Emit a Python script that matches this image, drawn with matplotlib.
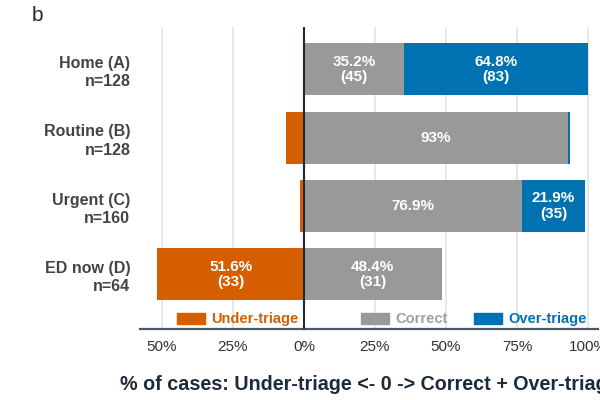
import numpy as np
import matplotlib
matplotlib.use("Agg")
import matplotlib.pyplot as plt
from matplotlib.patches import Rectangle

plt.rcParams['font.family'] = ['Liberation Sans', 'DejaVu Sans']

# data
categories = ['Home (A)\nn=128', 'Routine (B)\nn=128', 'Urgent (C)\nn=160', 'ED now (D)\nn=64']
n_under = [0, 8, 2, 33]
n_correct = [45, 119, 123, 31]
n_over = [83, 1, 35, 0]
xticks = [-50, -25, 0, 25, 50, 75, 100]
xticklabels = ['50%', '25%', '0%', '25%', '50%', '75%', '100%']
legend_names = ['Under-triage', 'Correct', 'Over-triage']

c_under = '#D55E00'
c_correct = '#999999'
c_over = '#0072B2'
dark = '#1c2b3c'

n_total = np.array(n_under) + np.array(n_correct) + np.array(n_over)
p_under = np.array(n_under) / n_total * 100
p_correct = np.array(n_correct) / n_total * 100
p_over = np.array(n_over) / n_total * 100

fig = plt.figure(figsize=(6, 4), dpi=100)
ax = fig.add_axes([0.2333, 0.1775, 0.7634, 0.755])

y = np.arange(len(categories))
h = 0.76
ax.barh(y, -p_under, height=h, color=c_under, zorder=2)
ax.barh(y, p_correct, height=h, color=c_correct, zorder=2)
ax.barh(y, p_over, left=p_correct, height=h, color=c_over, zorder=2)


def seg_label(pct, n, xc, yc):
    if pct < 10:
        return
    txt = '%.3g%%' % pct
    if n < 100:
        txt += '\n(%d)' % n
    ax.text(xc, yc, txt, ha='center', va='center', color='white',
            fontsize=11, fontweight='bold', linespacing=1.15, zorder=3)


for i in range(len(categories)):
    seg_label(p_under[i], n_under[i], -p_under[i] / 2, y[i])
    seg_label(p_correct[i], n_correct[i], p_correct[i] / 2, y[i])
    seg_label(p_over[i], n_over[i], p_correct[i] + p_over[i] / 2, y[i])

ax.axvline(0, color=dark, linewidth=1.5, zorder=6)
ax.set_xlim(-57.7, 103.5)
ax.set_ylim(3.8, -0.62)
ax.set_xticks(xticks)
ax.set_xticklabels(xticklabels, fontsize=11, color='#333333')
ax.set_yticks(y)
ax.set_yticklabels(categories, fontsize=11.5, fontweight='bold', color='#444444',
                   linespacing=1.3)
ax.tick_params(axis='both', length=0, pad=8)
ax.tick_params(axis='y', pad=7)
ax.grid(axis='x', color='#e3e3e3', linewidth=1.2, zorder=0)
ax.set_axisbelow(True)
for s in ['top', 'right', 'left']:
    ax.spines[s].set_visible(False)
ax.spines['bottom'].set_color('#4a5868')
ax.spines['bottom'].set_linewidth(1.6)

ax.set_xlabel('% of cases: Under-triage <- 0 -> Correct + Over-triage',
              fontsize=14.2, fontweight='bold', color=dark, labelpad=15)

# legend drawn by hand, positions in figure pixels
leg_x = [177, 361, 474]
leg_col = [c_under, c_correct, c_over]
leg_txt_col = [c_under, '#a0a0a0', c_over]
for lx, name, c, tc in zip(leg_x, legend_names, leg_col, leg_txt_col):
    fig.patches.append(Rectangle((lx / 600, 1 - 324 / 400), 28 / 600, 11 / 400,
                                 transform=fig.transFigure, color=c, zorder=5))
    fig.text((lx + 34) / 600, 1 - 319 / 400, name, color=tc, fontsize=10.5,
             fontweight='bold', ha='left', va='center', zorder=5)

fig.text(0.053, 0.962, 'b', fontsize=15, color=dark, ha='left', va='center')

plt.savefig('out.png', dpi=100)
